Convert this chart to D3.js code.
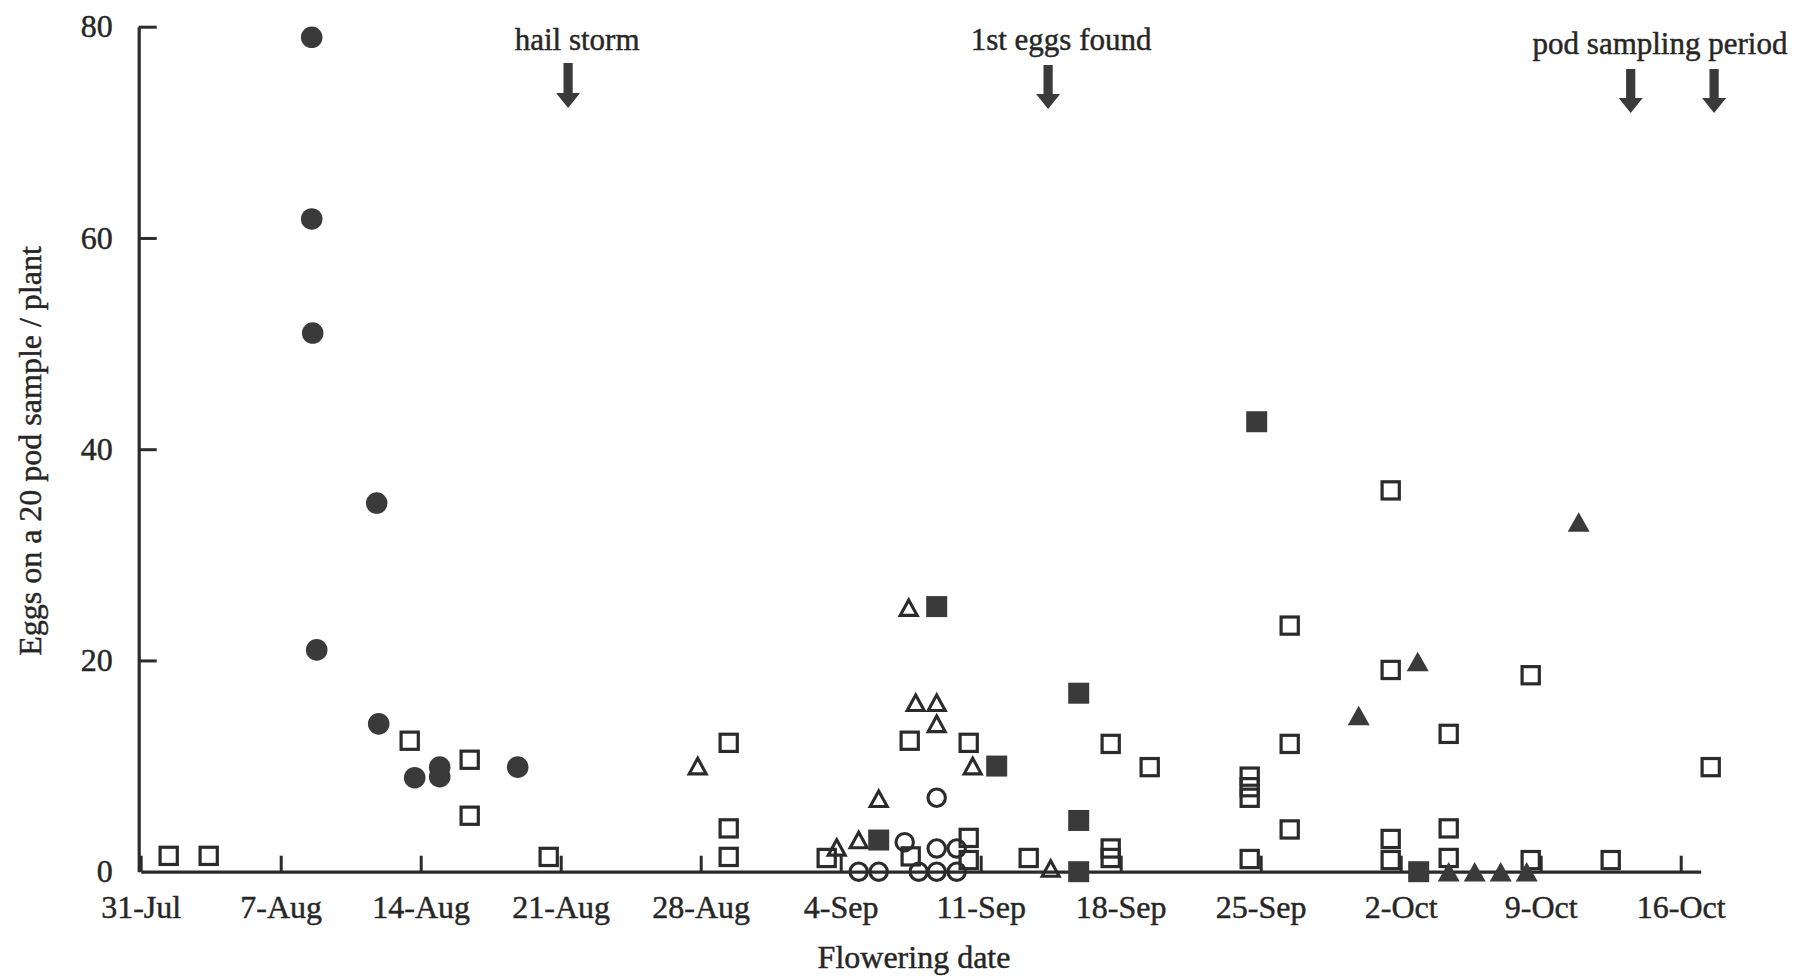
<!DOCTYPE html>
<html>
<head>
<meta charset="utf-8">
<script src="https://cdn.jsdelivr.net/npm/d3@7"></script>
<style>
  html, body { margin: 0; padding: 0; background: #fff; }
  svg { display: block; }
  text { font-family: "Liberation Serif", "Times New Roman", serif; fill: #262626; stroke: #262626; stroke-width: 0.45px; }
</style>
</head>
<body>
<svg id="chart" width="1795" height="976"></svg>
<script>
// Flowering date is expressed as days after 31 July.
const weekDays   = [0, 7, 14, 21, 28, 35, 42, 49, 56, 63, 70, 77];
const weekLabels = ["31-Jul", "7-Aug", "14-Aug", "21-Aug", "28-Aug", "4-Sep",
                    "11-Sep", "18-Sep", "25-Sep", "2-Oct", "9-Oct", "16-Oct"];
const yTickValues = [0, 20, 40, 60, 80];

// Eggs on a 20 pod sample per plant: [flowering day, eggs]
const openSquares = [
  [1.4, 1.5], [3.4, 1.5], [13.45, 12.4], [16.45, 10.6], [16.45, 5.3], [20.4, 1.4],
  [29.4, 12.2], [29.4, 4.1], [29.4, 1.4], [34.3, 1.3], [38.45, 12.4], [38.5, 1.45],
  [41.4, 12.2], [41.4, 3.2], [41.4, 1.1], [44.4, 1.3], [48.5, 12.1], [48.5, 2.2],
  [48.5, 1.3], [50.45, 9.9], [55.45, 9.0], [55.45, 8.0], [55.45, 7.0], [55.45, 1.2],
  [57.45, 23.3], [57.45, 12.1], [57.45, 4.0], [62.5, 36.1], [62.5, 19.1], [62.5, 3.1],
  [62.5, 1.1], [65.4, 13.05], [65.4, 4.1], [65.4, 1.3], [69.5, 18.6], [69.5, 1.1],
  [73.5, 1.1], [78.5, 9.9]
];
const openCircles = [
  [39.8, 7.0], [38.2, 2.8], [39.8, 2.2], [40.8, 2.2],
  [35.9, 0], [36.9, 0], [38.9, 0], [39.8, 0], [40.8, 0]
];
const openTriangles = [
  [27.85, 10.0], [34.8, 2.3], [35.9, 3.0], [36.9, 6.9], [38.4, 25.0], [38.75, 16.0],
  [39.8, 16.0], [39.8, 14.0], [41.6, 10.0], [45.5, 0.3]
];
const filledSquares = [
  [36.9, 3.0], [39.8, 25.1], [42.8, 10.0], [46.9, 16.9], [46.9, 4.85], [46.9, 0],
  [55.8, 42.6], [63.9, 0]
];
const filledTriangles = [
  [60.9, 14.8], [63.85, 19.9], [71.9, 33.1], [65.4, 0], [66.7, 0], [68.0, 0], [69.3, 0]
];
const filledCircles = [
  [8.55, 79], [8.55, 61.8], [8.6, 51], [8.8, 21], [11.8, 34.9], [11.9, 14],
  [13.7, 8.9], [14.95, 9.9], [14.95, 9.0], [18.85, 9.9]
];

// Field events marked above the plot
const eventLabels = ["hail storm", "1st eggs found", "pod sampling period"];
const eventDays   = [[21.37], [45.37], [74.5, 78.67]];

const svg = d3.select("#chart");
const ink = "#2b2b2b";
const fillInk = "#3a3a3a";
const fontStack = '"Liberation Serif", "Times New Roman", serif';

const x = d3.scaleLinear().domain([0, 78]).range([140.7, 1700.7]);
const y = d3.scaleLinear().domain([0, 80]).range([871.7, 26.7]);

// X axis, ticks pointing up into the plot
const xAxis = svg.append("g")
  .attr("transform", `translate(0,${y(0)})`)
  .call(d3.axisBottom(x).tickValues(weekDays)
        .tickFormat((d, i) => weekLabels[i])
        .tickSize(-16).tickSizeOuter(0).tickPadding(24));
xAxis.select(".domain").attr("stroke", ink).attr("stroke-width", 3.2);
xAxis.selectAll(".tick line").attr("stroke", ink).attr("stroke-width", 3);
xAxis.selectAll(".tick text").attr("font-size", 32).attr("fill", "#262626")
  .style("font-family", fontStack);

// Y axis, ticks pointing right into the plot
const yAxis = svg.append("g")
  .attr("transform", `translate(${x(0) - 2},0)`)
  .call(d3.axisLeft(y).tickValues(yTickValues)
        .tickSize(-18).tickSizeOuter(0).tickPadding(26));
yAxis.select(".domain").attr("stroke", ink).attr("stroke-width", 3.2);
yAxis.selectAll(".tick line").attr("stroke", ink).attr("stroke-width", 3)
  .attr("display", d => d === 0 ? "none" : null);
yAxis.selectAll(".tick text").attr("font-size", 32).attr("fill", "#262626")
  .style("font-family", fontStack);

// Axis titles
svg.append("text")
  .attr("x", 914).attr("y", 968)
  .attr("text-anchor", "middle").attr("font-size", 32)
  .text("Flowering date");
svg.append("text")
  .attr("transform", `translate(30,451) rotate(-90)`)
  .attr("text-anchor", "middle").attr("dy", "0.35em").attr("font-size", 32)
  .text("Eggs on a 20 pod sample / plant");

// Marker shapes, centred on the data point
function triPath(w, h) {
  return `M0,${-h / 2}L${w / 2},${h / 2}L${-w / 2},${h / 2}Z`;
}
const series = [
  { data: openSquares,     draw: g => g.append("rect").attr("x", -8.6).attr("y", -8.6).attr("width", 17.2).attr("height", 17.2)
                                      .attr("fill", "none").attr("stroke", ink).attr("stroke-width", 3.2) },
  { data: openCircles,     draw: g => g.append("circle").attr("r", 8.7)
                                      .attr("fill", "none").attr("stroke", ink).attr("stroke-width", 3.1) },
  { data: openTriangles,   draw: g => g.append("path").attr("d", triPath(17, 15.5))
                                      .attr("fill", "none").attr("stroke", ink).attr("stroke-width", 3.1).attr("stroke-linejoin", "miter") },
  { data: filledSquares,   draw: g => g.append("rect").attr("x", -10.5).attr("y", -10.5).attr("width", 21).attr("height", 21)
                                      .attr("fill", fillInk) },
  { data: filledTriangles, draw: g => g.append("path").attr("d", triPath(22, 19.5))
                                      .attr("fill", fillInk) },
  { data: filledCircles,   draw: g => g.append("circle").attr("r", 10.8)
                                      .attr("fill", fillInk) }
];
series.forEach(s => {
  const pts = svg.append("g").selectAll("g").data(s.data).join("g")
    .attr("transform", d => `translate(${x(d[0])},${y(d[1])})`);
  pts.each(function () { s.draw(d3.select(this)); });
});

// Event annotations with downward arrows
const eventLayout = [
  { labelDx: 9,   labelY: 50, top: 63, tip: 108 },
  { labelDx: 13,  labelY: 50, top: 65, tip: 109 },
  { labelDx: 0,   labelY: 54, top: 69, tip: 113 }
];
function arrow(cx, top, tip) {
  const head = 15, sw = 4.6, hw = 12;
  return `M${cx - sw},${top}L${cx + sw},${top}L${cx + sw},${tip - head}L${cx + hw},${tip - head}` +
         `L${cx},${tip}L${cx - hw},${tip - head}L${cx - sw},${tip - head}Z`;
}
eventLabels.forEach((label, i) => {
  const lay = eventLayout[i];
  const days = eventDays[i];
  const cx = days.length > 1 ? 1660 : x(days[0]) + lay.labelDx;
  svg.append("text")
    .attr("x", cx).attr("y", lay.labelY)
    .attr("text-anchor", "middle").attr("font-size", 31)
    .text(label);
  days.forEach(d => {
    svg.append("path").attr("d", arrow(x(d), lay.top, lay.tip)).attr("fill", "#3a3a3a");
  });
});
</script>
</body>
</html>
